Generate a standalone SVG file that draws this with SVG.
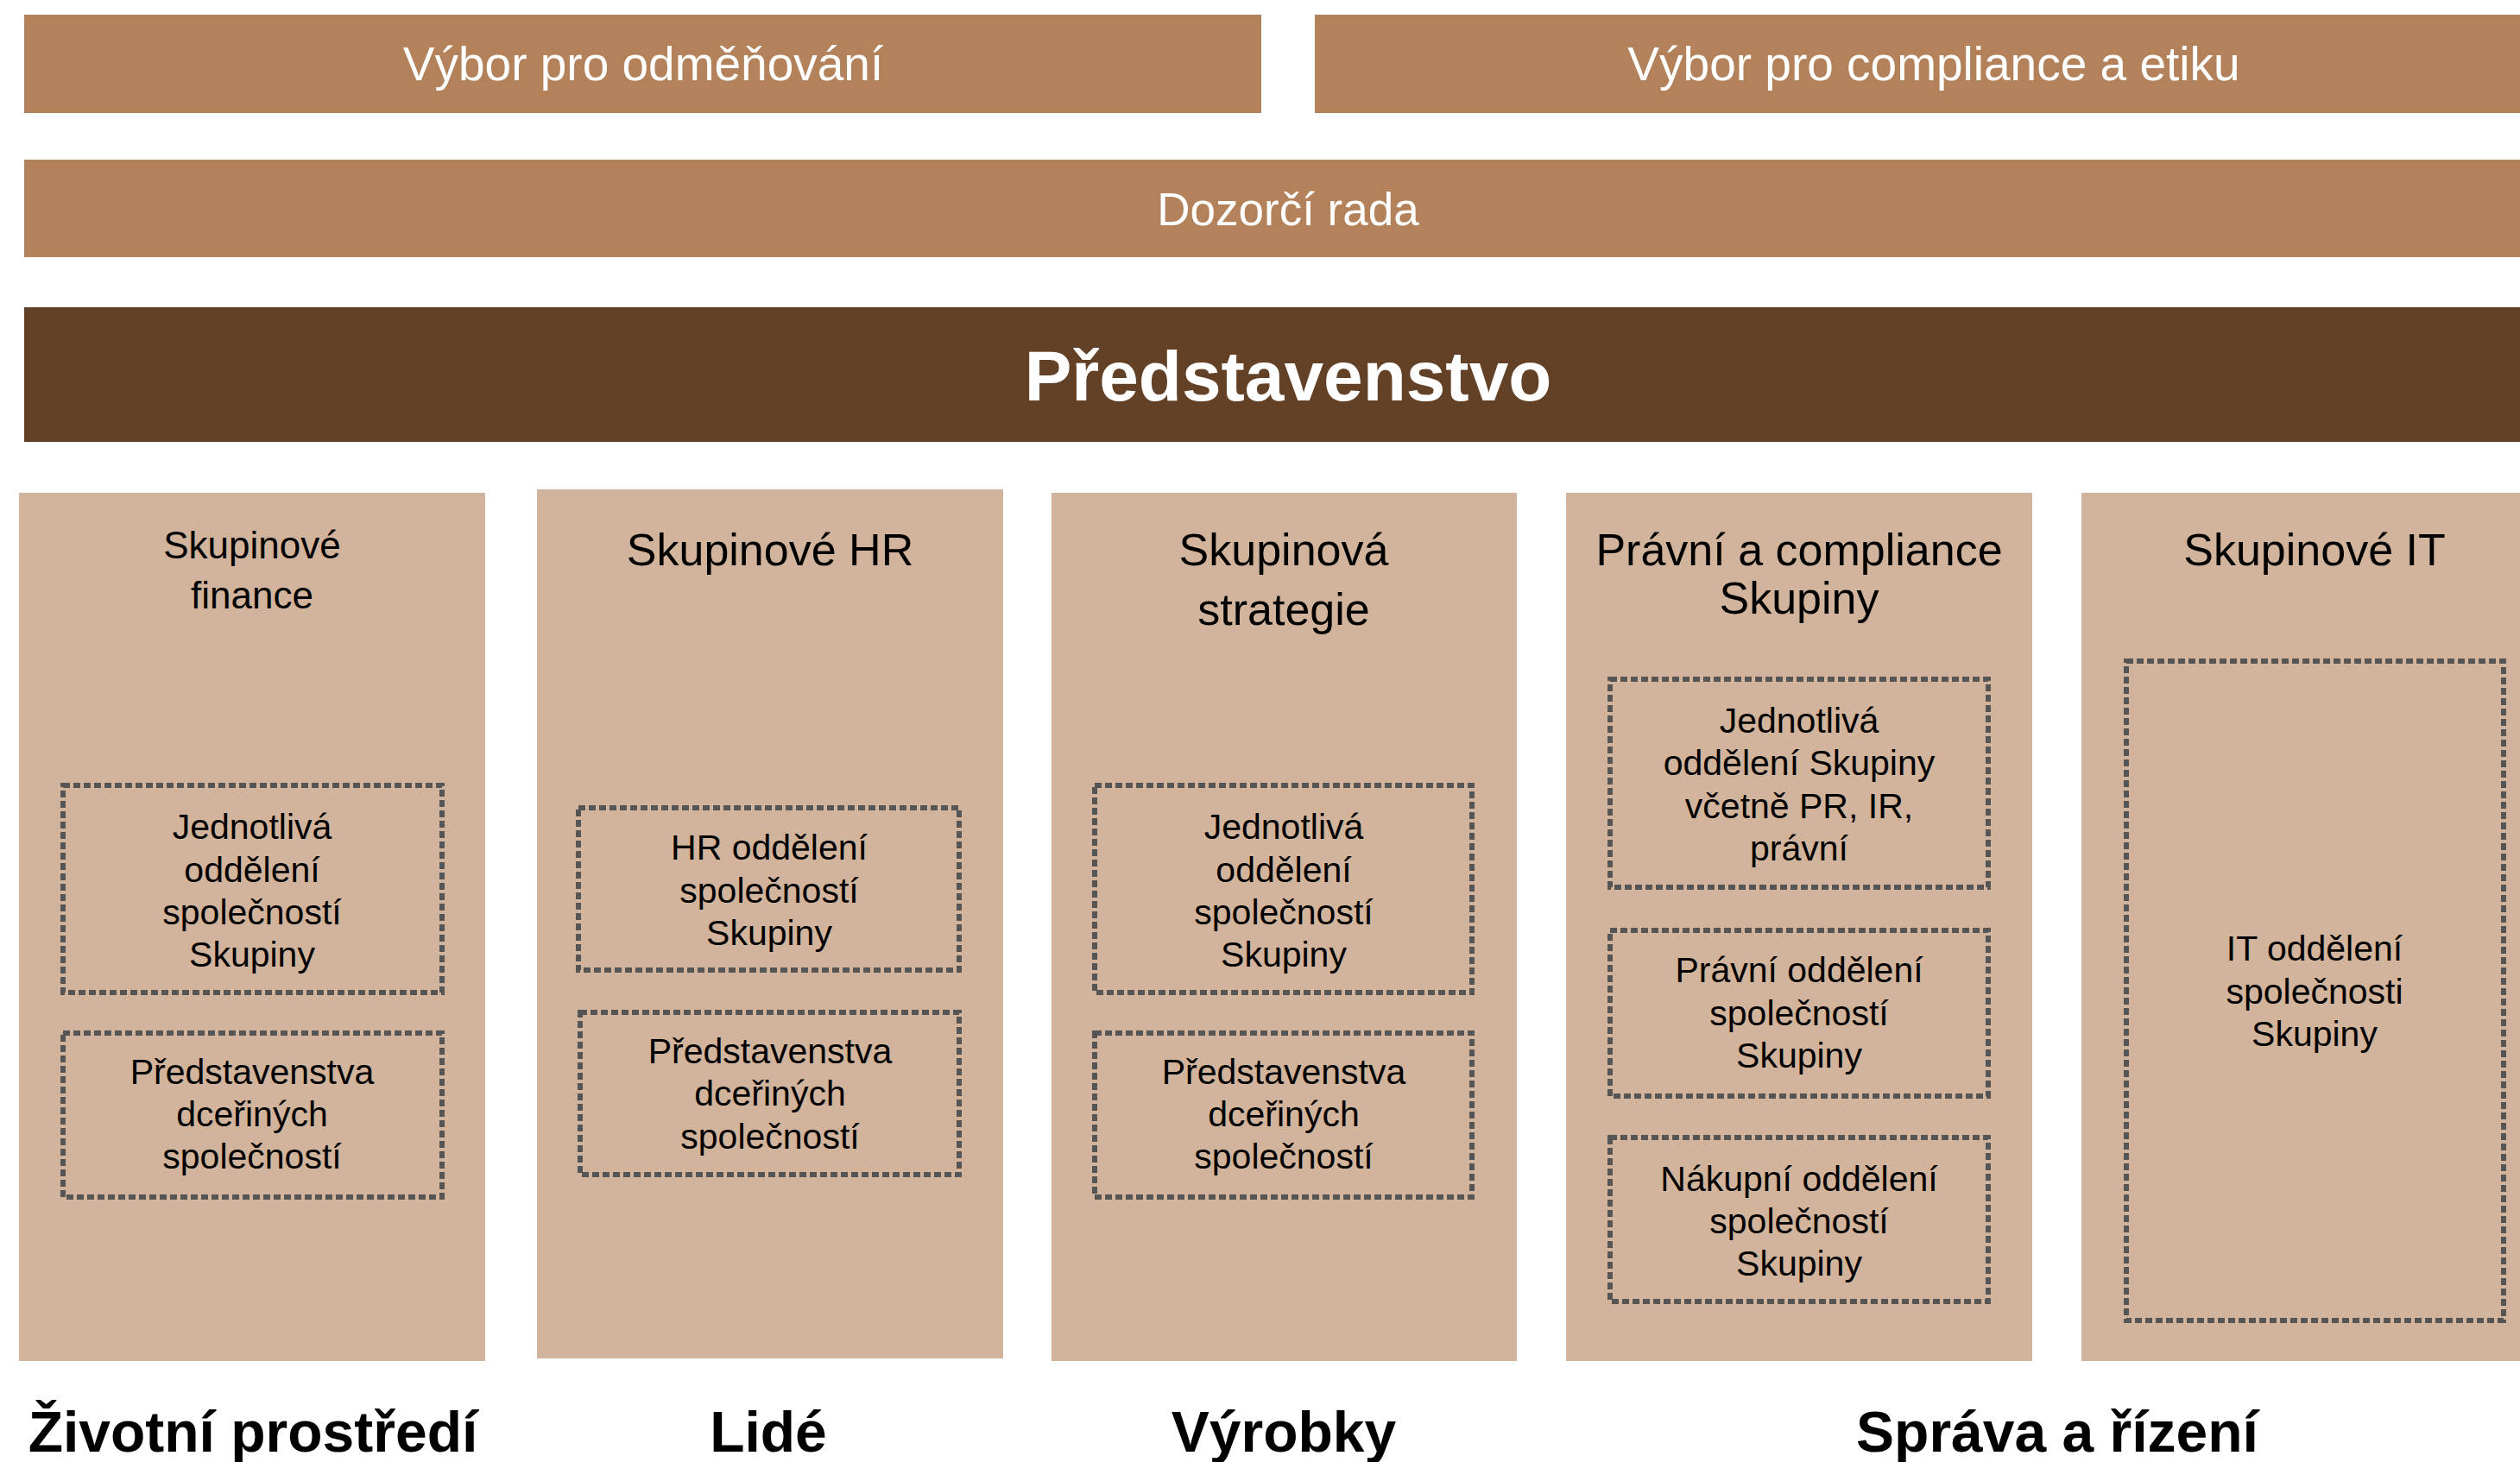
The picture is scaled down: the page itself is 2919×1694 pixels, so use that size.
<svg xmlns="http://www.w3.org/2000/svg" width="2919" height="1694" viewBox="0 0 2919 1694">
  <style>
    .top { fill: #B3825A; }
    .board { fill: #634126; }
    .col { fill: #D1B49B; }
    .dot { fill: none; stroke: #555555; stroke-width: 6; stroke-dasharray: 8 4; }
    .wt { font-family: "Liberation Sans", Arial, sans-serif; fill: #FFFFFF; font-size: 55px; text-anchor: middle; }
    .wd { font-size: 53px; }
    .bt { font-family: "Liberation Sans", Arial, sans-serif; fill: #FFFFFF; font-size: 82px; font-weight: bold; text-anchor: middle; }
    .hd { font-family: "Liberation Sans", Arial, sans-serif; fill: #000000; font-size: 52px; text-anchor: middle; }
    .hs { font-family: "Liberation Sans", Arial, sans-serif; fill: #000000; font-size: 44px; text-anchor: middle; }
    .tx { font-family: "Liberation Sans", Arial, sans-serif; fill: #000000; font-size: 41px; text-anchor: middle; }
    .lb { font-family: "Liberation Sans", Arial, sans-serif; fill: #000000; font-size: 66px; font-weight: bold; text-anchor: middle; }
  </style>
  <rect x="0" y="0" width="2919" height="1694" fill="#FFFFFF"/>

  <g id="vybor-odmenovani">
    <rect class="top" x="28" y="17" width="1433" height="114"/>
    <text class="wt" x="745" y="93">Výbor pro odměňování</text>
  </g>
  <g id="vybor-compliance">
    <rect class="top" x="1523" y="17" width="1434" height="114"/>
    <text class="wt" x="2240" y="93">Výbor pro compliance a etiku</text>
  </g>
  <g id="dozorci-rada">
    <rect class="top" x="28" y="185" width="2929" height="113"/>
    <text class="wt wd" x="1492" y="261">Dozorčí rada</text>
  </g>
  <g id="predstavenstvo">
    <rect class="board" x="28" y="356" width="2929" height="156"/>
    <text class="bt" x="1492" y="464">Představenstvo</text>
  </g>

  <g id="skupinove-finance">
    <rect class="col" x="22" y="571" width="540" height="1006"/>
    <text class="hs" x="292" y="647">Skupinové</text>
    <text class="hs" x="292" y="705">finance</text>
    <g id="finance-oddeleni">
      <rect class="dot" x="73" y="910" width="439" height="240"/>
      <text class="tx" x="292" y="972">Jednotlivá</text>
      <text class="tx" x="292" y="1022">oddělení</text>
      <text class="tx" x="292" y="1071">společností</text>
      <text class="tx" x="292" y="1120">Skupiny</text>
    </g>
    <g id="finance-predstavenstva">
      <rect class="dot" x="73" y="1197" width="439" height="190"/>
      <text class="tx" x="292" y="1256">Představenstva</text>
      <text class="tx" x="292" y="1305">dceřiných</text>
      <text class="tx" x="292" y="1354">společností</text>
    </g>
  </g>

  <g id="skupinove-hr">
    <rect class="col" x="622" y="567" width="540" height="1007"/>
    <text class="hd" x="892" y="655">Skupinové HR</text>
    <g id="hr-oddeleni">
      <rect class="dot" x="670" y="936" width="441" height="188"/>
      <text class="tx" x="891" y="996">HR oddělení</text>
      <text class="tx" x="891" y="1046">společností</text>
      <text class="tx" x="891" y="1095">Skupiny</text>
    </g>
    <g id="hr-predstavenstva">
      <rect class="dot" x="672" y="1173" width="439" height="188"/>
      <text class="tx" x="892" y="1232">Představenstva</text>
      <text class="tx" x="892" y="1281">dceřiných</text>
      <text class="tx" x="892" y="1331">společností</text>
    </g>
  </g>

  <g id="skupinova-strategie">
    <rect class="col" x="1218" y="571" width="539" height="1006"/>
    <text class="hd" x="1487" y="655">Skupinová</text>
    <text class="hd" x="1487" y="724">strategie</text>
    <g id="strategie-oddeleni">
      <rect class="dot" x="1268" y="910" width="437" height="240"/>
      <text class="tx" x="1487" y="972">Jednotlivá</text>
      <text class="tx" x="1487" y="1022">oddělení</text>
      <text class="tx" x="1487" y="1071">společností</text>
      <text class="tx" x="1487" y="1120">Skupiny</text>
    </g>
    <g id="strategie-predstavenstva">
      <rect class="dot" x="1268" y="1197" width="437" height="190"/>
      <text class="tx" x="1487" y="1256">Představenstva</text>
      <text class="tx" x="1487" y="1305">dceřiných</text>
      <text class="tx" x="1487" y="1354">společností</text>
    </g>
  </g>

  <g id="pravni-compliance">
    <rect class="col" x="1814" y="571" width="540" height="1006"/>
    <text class="hd" x="2084" y="655">Právní a compliance</text>
    <text class="hd" x="2084" y="711">Skupiny</text>
    <g id="jednotliva-oddeleni">
      <rect class="dot" x="1865" y="787" width="438" height="241"/>
      <text class="tx" x="2084" y="849">Jednotlivá</text>
      <text class="tx" x="2084" y="898">oddělení Skupiny</text>
      <text class="tx" x="2084" y="948">včetně PR, IR,</text>
      <text class="tx" x="2084" y="997">právní</text>
    </g>
    <g id="pravni-oddeleni">
      <rect class="dot" x="1865" y="1078" width="438" height="192"/>
      <text class="tx" x="2084" y="1138">Právní oddělení</text>
      <text class="tx" x="2084" y="1188">společností</text>
      <text class="tx" x="2084" y="1237">Skupiny</text>
    </g>
    <g id="nakupni-oddeleni">
      <rect class="dot" x="1865" y="1318" width="438" height="190"/>
      <text class="tx" x="2084" y="1380">Nákupní oddělení</text>
      <text class="tx" x="2084" y="1429">společností</text>
      <text class="tx" x="2084" y="1478">Skupiny</text>
    </g>
  </g>

  <g id="skupinove-it">
    <rect class="col" x="2411" y="571" width="540" height="1006"/>
    <text class="hd" x="2681" y="655">Skupinové IT</text>
    <g id="it-oddeleni">
      <rect class="dot" x="2463" y="766" width="437" height="764"/>
      <text class="tx" x="2681" y="1113">IT oddělení</text>
      <text class="tx" x="2681" y="1163">společnosti</text>
      <text class="tx" x="2681" y="1212">Skupiny</text>
    </g>
  </g>

  <g id="connectors"/>

  <g id="labels">
    <text class="lb" x="293" y="1682">Životní prostředí</text>
    <text class="lb" x="890" y="1682">Lidé</text>
    <text class="lb" x="1487" y="1682">Výrobky</text>
    <text class="lb" x="2383" y="1682">Správa a řízení</text>
  </g>
</svg>
